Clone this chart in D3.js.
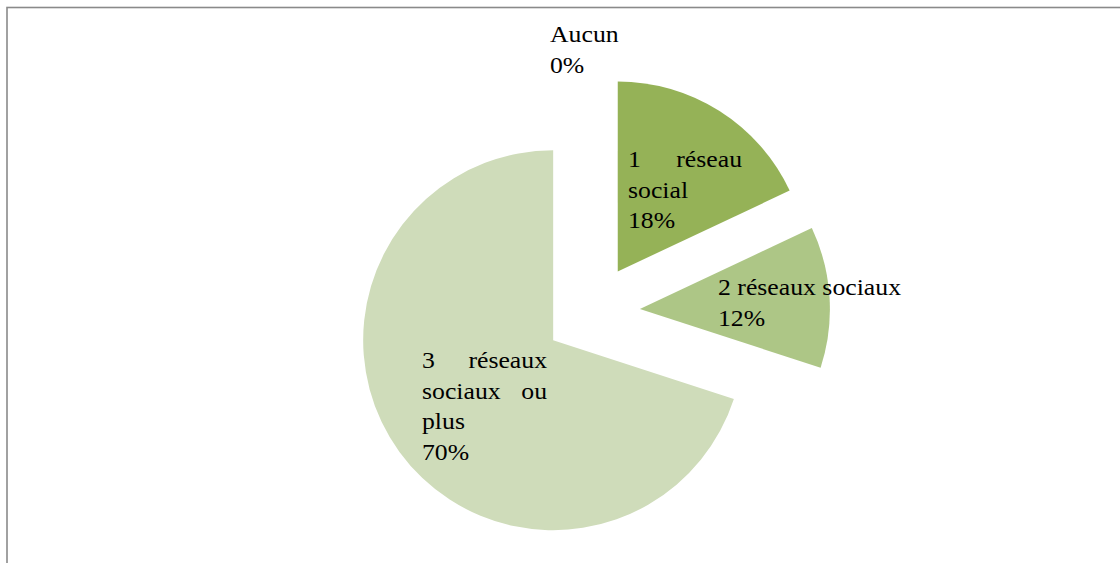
<!DOCTYPE html>
<html><head><meta charset="utf-8">
<script src="https://cdn.jsdelivr.net/npm/d3@7"></script>
<style>
html,body{margin:0;padding:0;background:#fff;}
svg{display:block;}
.lbl{font-family:"Liberation Serif","Times New Roman",Times,"DejaVu Serif",serif;font-size:23px;fill:#000;}
</style></head>
<body>
<svg id="chart" width="1120" height="563"></svg>
<script>
const categories = ["Aucun", "1 réseau social", "2 réseaux sociaux", "3 réseaux sociaux ou plus"];
const values = [0, 18, 12, 70];
const percentLabels = ["0%", "18%", "12%", "70%"];
const colors = ["#7f9a48", "#95b257", "#adc686", "#cfdcba"];

// label line layout (how the category text wraps in each label box)
const labelLines = [["Aucun"], ["1 réseau", "social"], ["2 réseaux sociaux"], ["3 réseaux", "sociaux ou", "plus"]];
// label box positions: left x, first baseline y, box width (for justification)
const labelBoxes = [
  {x: 550, y: 42, w: 0},
  {x: 628, y: 167, w: 114},
  {x: 718, y: 295, w: 0},
  {x: 422, y: 368, w: 125}
];

const svg = d3.select("#chart");
svg.append("rect").attr("x", 7).attr("y", 7.5).attr("width", 1300).attr("height", 700)
  .attr("fill", "#fff").attr("stroke", "#8a8a8a").attr("stroke-width", 1.6);

const cx = 592, cy = 312, R = 190, explode = 48;
const pie = d3.pie().sort(null).startAngle(0).endAngle(2 * Math.PI);
const arcs = pie(values);
const arc = d3.arc().innerRadius(0).outerRadius(R);

const g = svg.append("g").attr("transform", `translate(${cx},${cy})`);
g.selectAll("path").data(arcs).join("path")
  .attr("d", d => d.endAngle > d.startAngle ? arc(d) : null)
  .attr("fill", (d, i) => colors[i])
  .attr("transform", d => {
    const m = (d.startAngle + d.endAngle) / 2;
    return `translate(${explode * Math.sin(m)},${-explode * Math.cos(m)})`;
  });

const lineH = 30.5;
const sx = 1.12;
const lg = svg.append("g");
function put(x, y, txt, anchor) {
  lg.append("text").attr("class", "lbl")
    .attr("transform", `translate(${x},${y}) scale(${sx},1)`)
    .attr("text-anchor", anchor || "start").text(txt);
}

labelLines.forEach((lines, i) => {
  const b = labelBoxes[i];
  const all = lines.concat([percentLabels[i]]);
  all.forEach((ln, j) => {
    const y = b.y + j * lineH;
    const words = ln.split(" ");
    const justify = b.w > 0 && j < lines.length - 1 && words.length > 1;
    if (justify) {
      put(b.x, y, words[0]);
      put(b.x + b.w, y, words.slice(1).join(" "), "end");
    } else {
      put(b.x, y, ln);
    }
  });
});
</script>
</body></html>
